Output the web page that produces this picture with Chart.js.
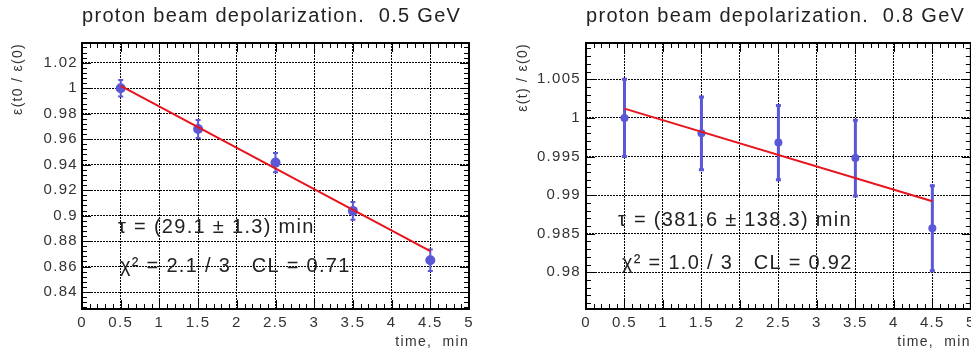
<!DOCTYPE html>
<html>
<head>
<meta charset="utf-8">
<script src="https://cdn.jsdelivr.net/npm/chart.js@4.4.0/dist/chart.umd.min.js"></script>
<style>
  html, body { margin: 0; padding: 0; background: #fff; overflow: hidden; width: 971px; height: 354px; }
  .panel { position: absolute; top: 0; }
</style>
</head>
<body>
<div class="panel" style="left:0px"><canvas id="chart05" width="490" height="354"></canvas></div>
<div class="panel" style="left:490px"><canvas id="chart08" width="490" height="354"></canvas></div>
<script>
// measured points, both energies
const timeMin = [0.5, 1.5, 2.5, 3.5, 4.5];
const ratio05 = [1.000, 0.968, 0.9416, 0.9037, 0.865];
const err05   = [0.0065, 0.007, 0.0075, 0.007, 0.0085];
const ratio08 = [1.000, 0.998, 0.9968, 0.9948, 0.9857];
const err08   = [0.005, 0.0047, 0.0048, 0.0049, 0.0055];

// fit line end points
const fitTime = [0.5, 4.5];
const fit05 = [1.0018, 0.8722];
const fit08 = [1.0012, 0.9892];

// axis tick labels
const xTicks = [0, 0.5, 1, 1.5, 2, 2.5, 3, 3.5, 4, 4.5, 5];
const yTicks05 = [0.84, 0.86, 0.88, 0.9, 0.92, 0.94, 0.96, 0.98, 1, 1.02];
const yTicks08 = [0.98, 0.985, 0.99, 0.995, 1, 1.005];

const FONT = "'Liberation Sans', Arial, Helvetica, sans-serif";
const BLUE = '#5a58d6';
const RED = '#e8141c';

// ROOT-like frame: error bars, inward ticks on four sides, fit text
const rootStyle = {
  id: 'rootStyle',
  beforeDraw(chart) {
    // the original text is set a little loose
    chart.ctx.letterSpacing = '1.3px';
  },
  beforeDatasetsDraw(chart, args, opts) {
    const { ctx, scales: { x, y } } = chart;
    ctx.save();
    ctx.strokeStyle = BLUE;
    ctx.lineWidth = opts.errWidth;
    opts.ex.forEach((t, i) => {
      const px = x.getPixelForValue(t);
      const lo = y.getPixelForValue(opts.ey[i] - opts.err[i]);
      const hi = y.getPixelForValue(opts.ey[i] + opts.err[i]);
      ctx.beginPath();
      ctx.moveTo(px, lo); ctx.lineTo(px, hi);
      ctx.moveTo(px - opts.cap, lo); ctx.lineTo(px + opts.cap, lo);
      ctx.moveTo(px - opts.cap, hi); ctx.lineTo(px + opts.cap, hi);
      ctx.stroke();
    });
    ctx.restore();
  },
  afterDraw(chart, args, opts) {
    const { ctx, chartArea: a, scales: { x, y } } = chart;
    ctx.save();
    ctx.strokeStyle = '#000';
    ctx.lineWidth = 1;
    ctx.beginPath();
    // minor + major ticks along x
    const xs = [];
    for (let v = x.min; v <= x.max + 1e-9; v += opts.xMinor) xs.push(v);
    xs.forEach(v => {
      const major = xTicks.some(t => Math.abs(t - v) < 1e-6);
      const len = major ? 9 : 5;
      const px = Math.round(x.getPixelForValue(v)) + 0.5;
      ctx.moveTo(px, a.bottom); ctx.lineTo(px, a.bottom - len);
      ctx.moveTo(px, a.top); ctx.lineTo(px, a.top + len);
    });
    // minor + major ticks along y
    const start = Math.ceil(y.min / opts.yMinor - 1e-6) * opts.yMinor;
    for (let i = 0; start + i * opts.yMinor <= y.max + 1e-9; i++) {
      const v = start + i * opts.yMinor;
      const major = opts.yMajor.some(t => Math.abs(t - v) < opts.yMinor / 10);
      const len = major ? 9 : 5;
      const py = Math.round(y.getPixelForValue(v)) + 0.5;
      ctx.moveTo(a.left, py); ctx.lineTo(a.left + len, py);
      ctx.moveTo(a.right, py); ctx.lineTo(a.right - len, py);
    }
    ctx.stroke();
    ctx.lineWidth = 2;
    ctx.strokeRect(a.left, a.top, a.right - a.left, a.bottom - a.top);

    // fit result text
    ctx.fillStyle = '#222';
    ctx.font = '20px ' + FONT;
    ctx.letterSpacing = '1.3px';
    ctx.textBaseline = 'middle';
    ctx.textAlign = 'left';
    opts.notes.forEach(n => {
      ctx.fillText(n.text, x.getPixelForValue(n.x), y.getPixelForValue(n.y));
    });
    ctx.restore();
  }
};

function makeChart(id, cfg) {
  return new Chart(document.getElementById(id), {
    type: 'scatter',
    data: {
      datasets: [
        {
          type: 'line',
          label: 'fit',
          data: fitTime.map((t, i) => ({ x: t, y: cfg.fit[i] })),
          borderColor: RED,
          borderWidth: 2,
          pointRadius: 0,
          order: 0
        },
        {
          label: 'data',
          data: timeMin.map((t, i) => ({ x: t, y: cfg.ratio[i] })),
          backgroundColor: BLUE,
          borderColor: BLUE,
          pointRadius: cfg.radius,
          pointBorderWidth: 0,
          order: 1
        }
      ]
    },
    options: {
      responsive: false,
      animation: false,
      layout: { padding: { left: 0, right: cfg.padRight, top: 0, bottom: 0 } },
      plugins: {
        legend: { display: false },
        tooltip: { enabled: false },
        title: {
          display: true,
          text: cfg.title,
          align: 'start',
          fullSize: false,
          color: '#222',
          font: { family: FONT, size: 20, weight: 'normal' },
          padding: { top: 4, bottom: 15 }
        },
        rootStyle: {
          ex: timeMin, ey: cfg.ratio, err: cfg.err,
          errWidth: cfg.errWidth, cap: 2.5,
          xMinor: 0.1, yMinor: cfg.yMinor, yMajor: cfg.yTicks,
          notes: cfg.notes
        }
      },
      scales: {
        x: {
          type: 'linear', min: 0, max: 5,
          afterBuildTicks: s => { s.ticks = xTicks.map(v => ({ value: v })); },
          afterFit: s => { s.height = 45; },
          ticks: { font: { family: FONT, size: 15 }, color: '#333', padding: 5, maxRotation: 0, autoSkip: false, callback: v => String(v) },
          grid: { color: '#000', lineWidth: 1, drawTicks: false },
          border: { display: false, dash: [2, 1] },
          title: { display: true, text: 'time,  min', align: 'end', color: '#333', font: { family: FONT, size: 14 }, padding: { top: 0, bottom: 3 } }
        },
        y: {
          type: 'linear', min: cfg.yMin, max: cfg.yMax,
          afterBuildTicks: s => { s.ticks = cfg.yTicks.map(v => ({ value: v })); },
          afterFit: s => { s.width = cfg.yWidth; },
          ticks: { font: { family: FONT, size: 15 }, color: '#333', padding: cfg.yPad, autoSkip: false, callback: v => String(+v.toFixed(4)) },
          grid: { color: '#000', lineWidth: 1, drawTicks: false },
          border: { display: false, dash: [2, 1] },
          title: { display: true, text: cfg.yTitle, align: 'end', color: '#333', font: { family: FONT, size: 14 }, padding: { top: cfg.yTitlePad, bottom: 0 } }
        }
      }
    },
    plugins: [rootStyle]
  });
}

makeChart('chart05', {
  title: 'proton beam depolarization.  0.5 GeV',
  ratio: ratio05, err: err05, fit: fit05,
  yMin: 0.8267, yMax: 1.0355, yTicks: yTicks05, yMinor: 0.004,
  yWidth: 82, yPad: 4, yTitle: 'ε(t0 / ε(0)', yTitlePad: 10,
  padRight: 21, radius: 5, errWidth: 2,
  notes: [
    { x: 0.465, y: 0.8903, text: 'τ = (29.1 ± 1.3) min' },
    { x: 0.49, y: 0.8597, text: 'χ² = 2.1 / 3   CL = 0.71' }
  ]
});

makeChart('chart08', {
  title: 'proton beam depolarization.  0.8 GeV',
  ratio: ratio08, err: err08, fit: fit08,
  yMin: 0.97525, yMax: 1.0097, yTicks: yTicks08, yMinor: 0.001,
  yWidth: 96, yPad: 5, yTitle: 'ε(t) / ε(0)', yTitlePad: 25,
  padRight: 8, radius: 4, errWidth: 3,
  notes: [
    { x: 0.415, y: 0.98672, text: 'τ = (381.6 ± 138.3) min' },
    { x: 0.467, y: 0.98116, text: 'χ² = 1.0 / 3   CL = 0.92' }
  ]
});
</script>
</body>
</html>
